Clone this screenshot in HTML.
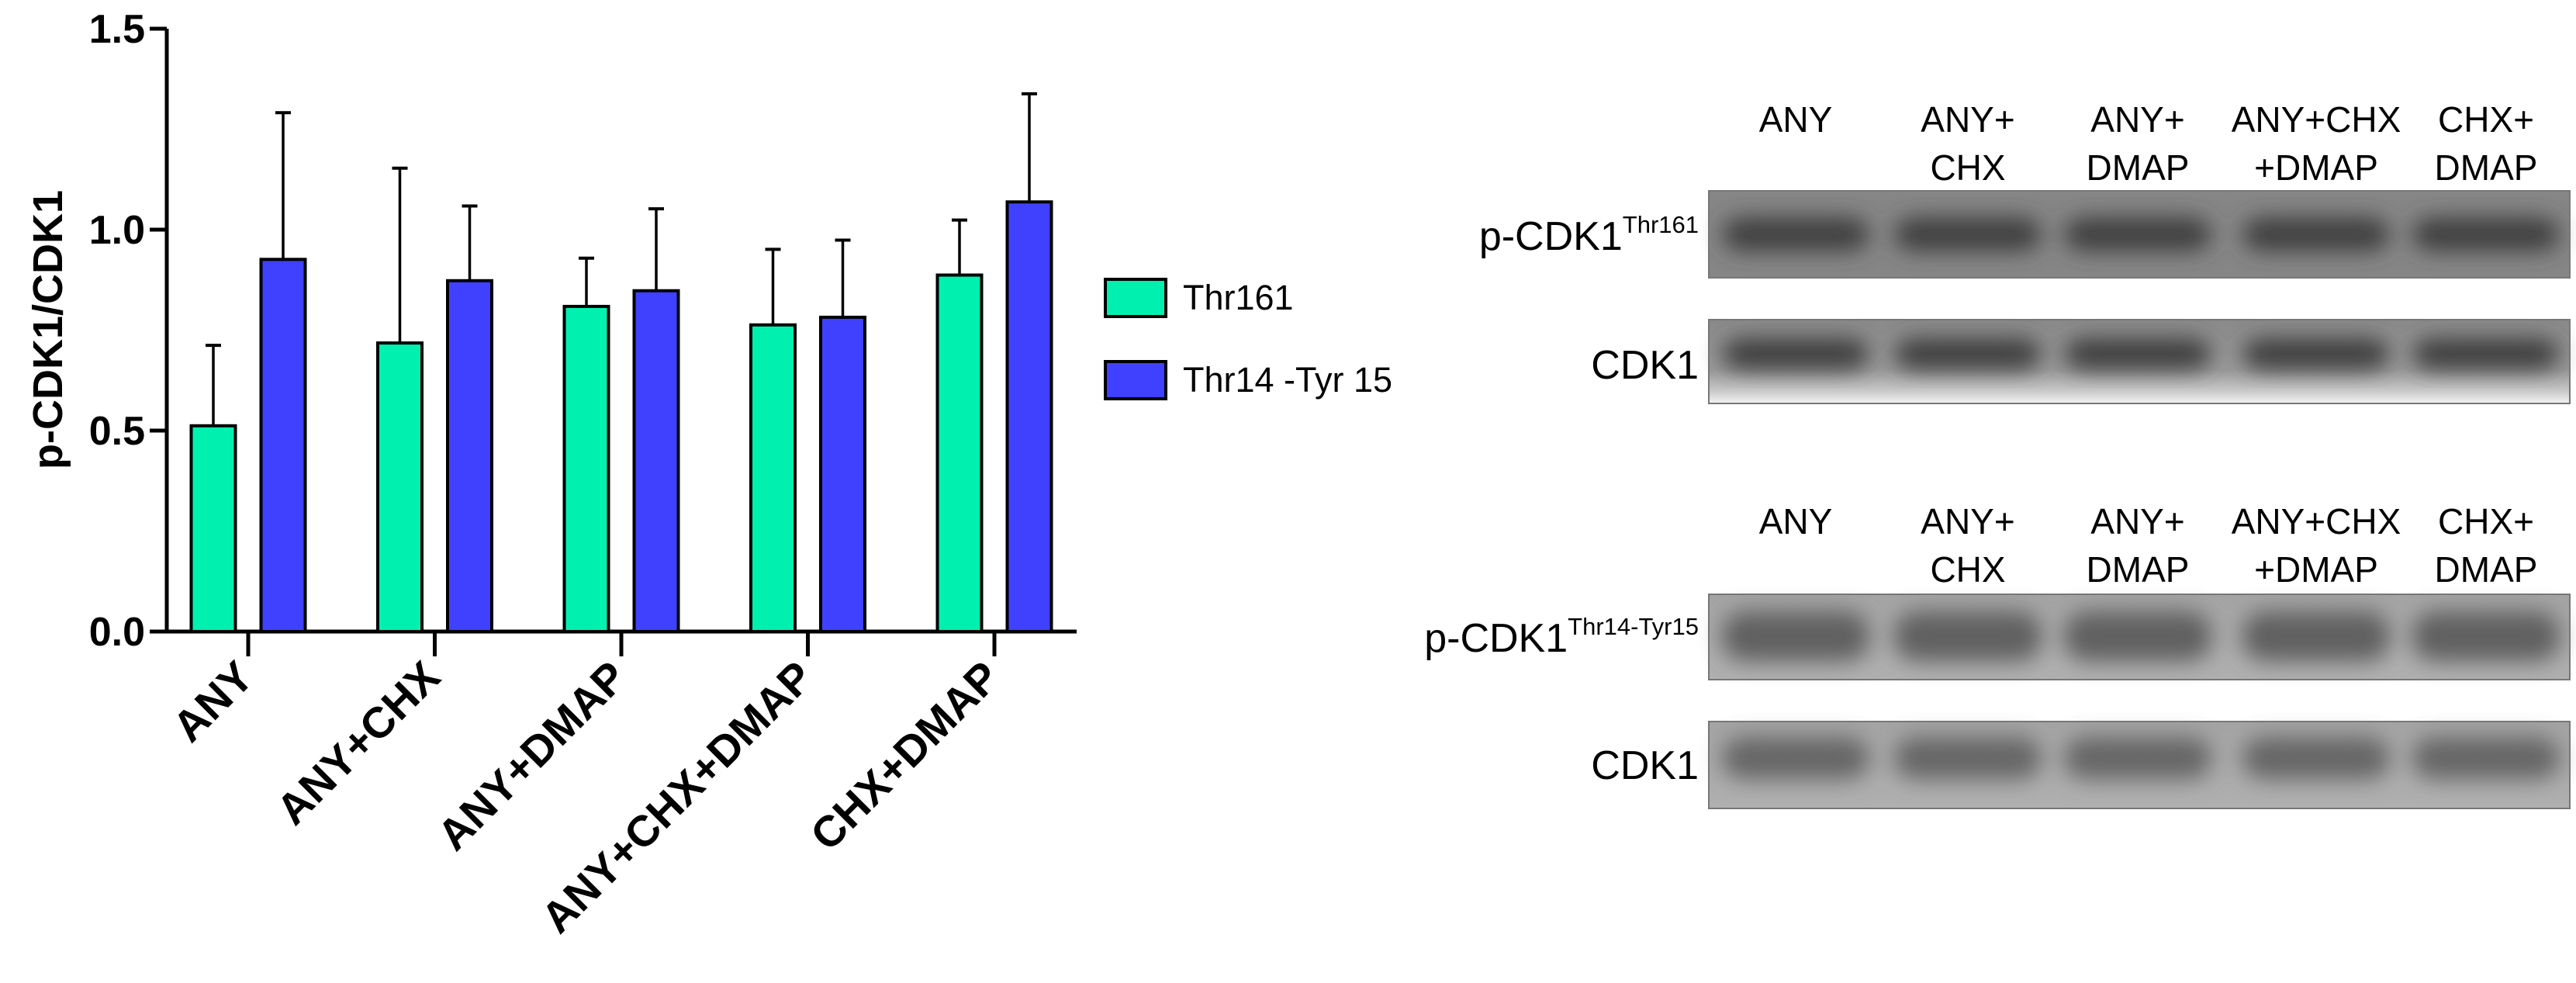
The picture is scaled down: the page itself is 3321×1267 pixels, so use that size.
<!DOCTYPE html>
<html><head><meta charset="utf-8"><style>
html,body{margin:0;padding:0;background:#fff;}
body{width:3321px;height:1267px;overflow:hidden;position:relative;font-family:"Liberation Sans",Arial,sans-serif;}
svg{position:absolute;left:0;top:0;}
</style></head><body>
<svg id="fig" width="3321" height="1267" viewBox="0 0 3321 1267">
<defs>
 <filter id="blur" x="-30%" y="-60%" width="160%" height="220%"><feGaussianBlur stdDeviation="14"/></filter>
 <linearGradient id="fadeBottom" x1="0" y1="0" x2="0" y2="1">
  <stop offset="0" stop-color="#8a8a8a"/><stop offset="0.6" stop-color="#9a9a9a"/><stop offset="0.85" stop-color="#c8c8c8"/><stop offset="1" stop-color="#f4f4f4"/>
 </linearGradient>
 <linearGradient id="lightBg" x1="0" y1="0" x2="0" y2="1">
  <stop offset="0" stop-color="#a4a4a4"/><stop offset="1" stop-color="#b0b0b0"/>
 </linearGradient>
</defs>
<g id="chart"></g>
<g id="blots"></g>
</svg>
<script>
const categories = ["ANY","ANY+CHX","ANY+DMAP","ANY+CHX+DMAP","CHX+DMAP"];
const thr161 = [0.512,0.718,0.809,0.763,0.887];
const thr161Err = [0.200,0.435,0.120,0.188,0.137];
const thr14 = [0.926,0.873,0.848,0.782,1.069];
const thr14Err = [0.365,0.186,0.204,0.192,0.269];
const yTicks = [0,0.5,1.0,1.5];
const yTickLabels = ["0.0","0.5","1.0","1.5"];
const seriesNames = ["Thr161","Thr14 -Tyr 15"];

const NS="http://www.w3.org/2000/svg";
function mk(tag,attrs,parent){const e=document.createElementNS(NS,tag);for(const k in attrs)e.setAttribute(k,attrs[k]);parent.appendChild(e);return e;}
const chart=document.getElementById('chart');
const X0=215, XEND=1388, Y0=814, YTOP=37, VMAX=1.5;
const groupW=240.5, firstCenter=320;
function y(v){return Y0-(v/VMAX)*(Y0-YTOP);}
function xc(i){return firstCenter+i*groupW;}
const barW=57, off=45;

let a=mk('line',{x1:X0,y1:YTOP,x2:X0,y2:Y0+2,stroke:'#000','stroke-width':5},chart);


a=mk('line',{x1:X0-2,y1:Y0,x2:XEND,y2:Y0,stroke:'#000','stroke-width':5},chart);


yTicks.forEach((t,i)=>{
 const l=mk('line',{x1:X0-22,y1:y(t),x2:X0,y2:y(t),stroke:'#000','stroke-width':5},chart);
 
 
 const tx=mk('text',{x:X0-28,y:y(t)+18,'text-anchor':'end','font-size':52,'font-weight':'bold'},chart);
 tx.textContent=yTickLabels[i];
 
 
});
const yt=mk('text',{x:0,y:0,'text-anchor':'middle','font-size':54,'font-weight':'bold',transform:'translate(80,425) rotate(-90)'},chart);
yt.textContent='p-CDK1/CDK1';



categories.forEach((c,i)=>{
 const cx=xc(i);
 const tk=mk('line',{x1:cx,y1:Y0,x2:cx,y2:Y0+32,stroke:'#000','stroke-width':5},chart);
 
 
 const lb=mk('text',{x:0,y:0,'text-anchor':'end','font-size':56,'font-weight':'bold',transform:`translate(${cx+10},${Y0+62}) rotate(-45)`},chart);
 lb.textContent=c;
 
 
 [[thr161,thr161Err,'#00f0b0',-1,'bar-thr161'],[thr14,thr14Err,'#4040ff',1,'bar-thr14-tyr15']].forEach(s=>{
  const v=s[0][i], e=s[1][i];
  const bx=cx+s[3]*off-barW/2;
  const el=mk('line',{x1:cx+s[3]*off,y1:y(v),x2:cx+s[3]*off,y2:y(v+e),stroke:'#000','stroke-width':3.5},chart);
  
  
  const cap=mk('line',{x1:cx+s[3]*off-10,y1:y(v+e),x2:cx+s[3]*off+10,y2:y(v+e),stroke:'#000','stroke-width':4},chart);
  
  
  const r=mk('rect',{x:bx,y:y(v),width:barW,height:Y0-y(v),fill:s[2],stroke:'#000','stroke-width':4},chart);
  
  
 });
});
const legColors=['#00f0b0','#4040ff'];
seriesNames.forEach((n,i)=>{
 const ly=360+i*106;
 const sw=mk('rect',{x:1425,y:ly,width:78,height:48,fill:legColors[i],stroke:'#000','stroke-width':4},chart);
 
 
 const t=mk('text',{x:1525,y:ly+39,'font-size':45},chart);
 t.textContent=n;
 
 
});

const blots=document.getElementById('blots');
const laneX=[2315,2537,2756,2986,3205];
const laneTop=[["ANY",""],["ANY+","CHX"],["ANY+","DMAP"],["ANY+CHX","+DMAP"],["CHX+","DMAP"]];
function laneLabels(y1){
 laneTop.forEach((p,i)=>{
  p.forEach((s,j)=>{ if(!s)return;
   const t=mk('text',{x:laneX[i],y:y1+j*62,'text-anchor':'middle','font-size':46},blots);
   t.textContent=s;
   
   
  });
 });
}
laneLabels(170); laneLabels(688);
function blot(y1,h,bg,bandY,bandH,bandCol,name){
 const g=mk('g',{},blots);
 
 
 mk('rect',{x:2203,y:y1,width:1110,height:h,fill:bg},g);
 const fg=mk('g',{filter:'url(#blur)'},g);
 laneX.forEach(x=>{mk('rect',{x:x-95,y:bandY,width:190,height:bandH,rx:30,fill:bandCol},fg);});
 mk('rect',{x:2203,y:y1,width:1110,height:h,fill:'none',stroke:'#777','stroke-width':2},g);
}
blot(246,112,'#868686',280,44,'#404040','blot-p-cdk1-thr161');
blot(412,108,'url(#fadeBottom)',436,40,'#3e3e3e','blot-cdk1-top');
blot(766,110,'url(#lightBg)',788,64,'#606060','blot-p-cdk1-thr14-tyr15');
blot(930,112,'url(#lightBg)',950,54,'#666','blot-cdk1-bottom');
function rowLabel(y1,main,sup,name){
 const t=mk('text',{x:2190,y:y1,'text-anchor':'end','font-size':52},blots);
 
 
 const s1=mk('tspan',{},t); s1.textContent=main;
 if(sup){const s2=mk('tspan',{'font-size':31,dy:-22},t); s2.textContent=sup;}
}
rowLabel(322,'p-CDK1','Thr161','row-label-p-cdk1-thr161');
rowLabel(488,'CDK1','','row-label-cdk1');
rowLabel(840,'p-CDK1','Thr14-Tyr15','row-label-p-cdk1-thr14-tyr15');
rowLabel(1004,'CDK1','','row-label-cdk1-lower');
</script>
</body></html>
